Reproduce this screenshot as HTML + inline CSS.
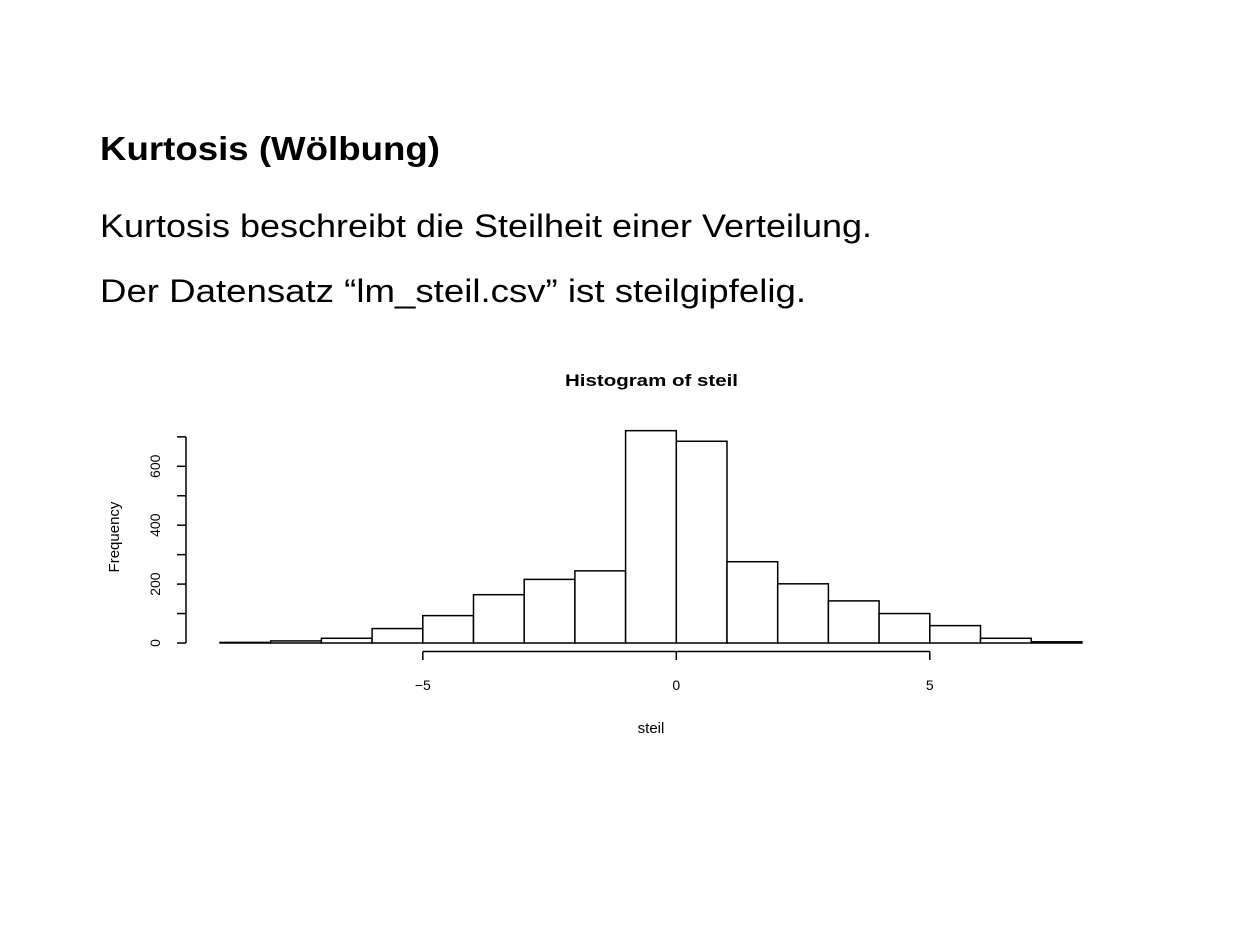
<!DOCTYPE html>
<html><head><meta charset="utf-8"><style>html,body{margin:0;padding:0;background:#fff}svg{display:block}</style></head>
<body>
<svg width="1260" height="945" viewBox="0 0 1260 945" xmlns="http://www.w3.org/2000/svg" font-family="Liberation Sans, sans-serif">
<text x="100" y="160" font-size="33" font-weight="bold" textLength="340" lengthAdjust="spacingAndGlyphs">Kurtosis (Wölbung)</text>
<text x="100" y="237" font-size="32" textLength="772" lengthAdjust="spacingAndGlyphs">Kurtosis beschreibt die Steilheit einer Verteilung.</text>
<text x="100" y="302" font-size="32" textLength="706" lengthAdjust="spacingAndGlyphs">Der Datensatz “lm_steil.csv” ist steilgipfelig.</text>
<text x="565" y="386" font-size="17" font-weight="bold" textLength="173" lengthAdjust="spacingAndGlyphs">Histogram of steil</text>
<text x="651" y="733" font-size="15" text-anchor="middle">steil</text>
<text transform="translate(119,537) rotate(-90)" font-size="15" text-anchor="middle">Frequency</text>
<g id="bars"></g>
<g id="axes"></g>
</svg>
<script>
const binStarts = [-9,-8,-7,-6,-5,-4,-3,-2,-1,0,1,2,3,4,5,6,7];
const counts = [2,7,16,49,93,164,216,245,721,685,276,201,143,100,59,16,4];
const xTicks = [-5,0,5];
const xTickLabels = ["\u22125","0","5"];
const yTicks = [0,100,200,300,400,500,600,700];
const yLabelTicks = [0,200,400,600];
const NS="http://www.w3.org/2000/svg";
function X(v){return 676.3+v*50.7;}
function Y(v){return 643-v*0.2945;}
function mk(t,a,p){const e=document.createElementNS(NS,t);for(const k in a)e.setAttribute(k,a[k]);p.appendChild(e);return e;}
const bars=document.getElementById('bars'), axes=document.getElementById('axes');
binStarts.forEach((b,i)=>{
  const r=mk('rect',{x:X(b),y:Y(counts[i]),width:X(b+1)-X(b),height:Y(0)-Y(counts[i]),fill:'#fff',stroke:'#000','stroke-width':1.5},bars);
  
  
});
const xl=mk('line',{x1:X(xTicks[0]),x2:X(xTicks[xTicks.length-1]),y1:651.5,y2:651.5,stroke:'#000','stroke-width':1.5},axes);


xTicks.forEach((t,i)=>{
  mk('line',{x1:X(t),x2:X(t),y1:651.5,y2:660,stroke:'#000','stroke-width':1.5},axes);
  const tx=mk('text',{x:X(t),y:690,'font-size':14,'text-anchor':'middle'},axes);
  tx.textContent=xTickLabels[i];
  
  
});
const yl=mk('line',{x1:186,x2:186,y1:Y(0),y2:Y(yTicks[yTicks.length-1]),stroke:'#000','stroke-width':1.5},axes);


yTicks.forEach(t=>{mk('line',{x1:177,x2:186,y1:Y(t),y2:Y(t),stroke:'#000','stroke-width':1.5},axes);});
yLabelTicks.forEach(t=>{
  const tx=mk('text',{transform:`translate(160,${Y(t)}) rotate(-90)`,'font-size':14,'text-anchor':'middle'},axes);
  tx.textContent=String(t);
  
  
});
</script>
</body></html>
